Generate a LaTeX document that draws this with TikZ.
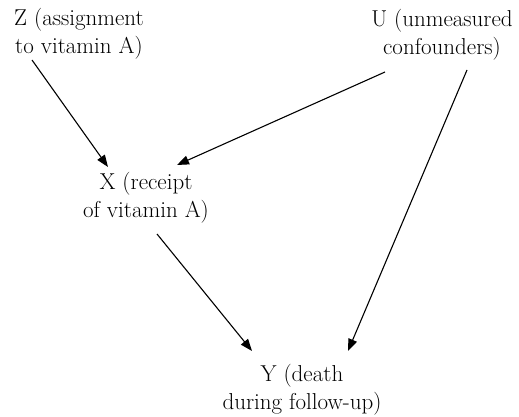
\documentclass[tikz,border=0pt]{standalone}
\usetikzlibrary{arrows.meta}
\begin{document}
\begin{tikzpicture}[x=1pt,y=-1pt,
  lbl/.style={align=center,inner sep=0pt,font=\fontsize{23}{28}\selectfont},
  arr/.style={line width=1.1pt,-{Triangle[length=12pt,width=9pt]}}]
\useasboundingbox (0,0) rectangle (519,417);
\node[lbl] (Z) at (79,33.5) {Z (assignment\\to vitamin A)};
\node[lbl] (U) at (442,34.5) {U (unmeasured\\confounders)};
\node[lbl] (X) at (146,198) {X (receipt\\of vitamin A)};
\node[lbl] (Y) at (302,389.5) {Y (death\\during follow-up)};
\coordinate (zs) at (32,60);
\coordinate (xz) at (108,167);
\coordinate (us1) at (385,72);
\coordinate (xu) at (177,165);
\coordinate (us2) at (467,70);
\coordinate (yu) at (348,351);
\coordinate (xs) at (157,234);
\coordinate (yx) at (252,351);
\draw[arr] (zs) -- (xz);
\draw[arr] (us1) -- (xu);
\draw[arr] (us2) -- (yu);
\draw[arr] (xs) -- (yx);
\end{tikzpicture}
\end{document}
